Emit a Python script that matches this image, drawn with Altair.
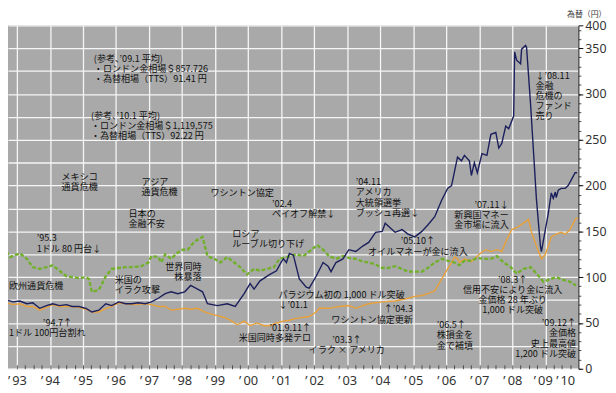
import altair as alt
import pandas as pd

# ---- data (time in fractional years) ----
DARK_T = [1992.49, 1992.70, 1992.88, 1993.09, 1993.30, 1993.48, 1993.69, 1993.90, 1994.08, 1994.29,
          1994.50, 1994.67, 1994.88, 1995.09, 1995.27, 1995.48, 1995.69, 1995.87, 1996.08, 1996.29,
          1996.47, 1996.68, 1996.89, 1997.07, 1997.28, 1997.49, 1997.67, 1997.87, 1998.08, 1998.26,
          1998.47, 1998.62, 1998.77, 1999.07, 1999.37, 1999.61, 1999.88, 2000.06, 2000.18, 2000.36,
          2000.66, 2000.86, 2001.01, 2001.07, 2001.16, 2001.25, 2001.37, 2001.55, 2001.76, 2001.85,
          2002.06, 2002.27, 2002.42, 2002.51, 2002.66, 2002.87, 2003.05, 2003.26, 2003.47, 2003.65,
          2003.86, 2004.06, 2004.15, 2004.30, 2004.45, 2004.66, 2004.84, 2005.05, 2005.26, 2005.44,
          2005.65, 2005.86, 2006.04, 2006.16, 2006.34, 2006.46, 2006.55, 2006.70, 2006.76, 2006.85,
          2006.94, 2007.08, 2007.23, 2007.35, 2007.50, 2007.59, 2007.68, 2007.80, 2007.89, 2008.04,
          2008.07, 2008.13, 2008.25, 2008.28, 2008.40, 2008.43, 2008.55, 2008.73, 2008.85, 2008.88,
          2009.00, 2009.09, 2009.18, 2009.24, 2009.30, 2009.33, 2009.39, 2009.48, 2009.60, 2009.69,
          2009.78, 2009.90, 2009.96]
DARK_V = [80, 75, 73, 74, 71, 72, 66, 69, 71, 69,
          70, 68, 68, 66, 62, 64, 71, 69, 73, 71,
          71, 72, 71, 73, 77, 82, 84, 82, 84, 91,
          87, 84, 71, 69, 71, 68, 82, 93, 87, 96,
          103, 107, 117, 120, 116, 126, 124, 98, 89, 88,
          101, 116, 112, 106, 116, 120, 130, 128, 134, 138,
          149, 150, 159, 154, 149, 152, 147, 144, 150, 157,
          166, 184, 197, 200, 231, 227, 233, 227, 211, 225,
          214, 235, 233, 256, 258, 241, 246, 265, 262, 276,
          346, 337, 333, 349, 353, 351, 290, 185, 134, 128,
          152, 170, 192, 186, 193, 187, 195, 197, 197, 200,
          206, 214, 214]

ORANGE_T = [1992.49, 1992.70, 1992.88, 1993.09, 1993.30, 1993.48, 1993.69, 1993.90, 1994.08, 1994.29,
            1994.50, 1994.67, 1994.88, 1995.09, 1995.27, 1995.48, 1995.69, 1995.87, 1996.08, 1996.29,
            1996.47, 1996.89, 1997.07, 1997.28, 1997.49, 1997.67, 1997.87, 1998.08, 1998.26, 1998.47,
            1998.68, 1998.86, 1999.07, 1999.28, 1999.46, 1999.67, 1999.88, 2000.06, 2000.27, 2000.48,
            2000.66, 2000.86, 2001.07, 2001.25, 2001.46, 2001.85, 2002.06, 2002.15, 2002.45, 2002.75,
            2003.05, 2003.26, 2003.47, 2003.65, 2004.06, 2004.45, 2004.84, 2005.05, 2005.26, 2005.44,
            2005.65, 2005.86, 2006.04, 2006.16, 2006.25, 2006.34, 2006.40, 2006.55, 2006.76, 2006.91,
            2007.06, 2007.20, 2007.35, 2007.53, 2007.68, 2007.83, 2007.98, 2008.13, 2008.34, 2008.49,
            2008.58, 2008.73, 2008.88, 2009.00, 2009.09, 2009.18, 2009.33, 2009.48, 2009.60, 2009.75,
            2009.90, 2009.99]
ORANGE_V = [73, 72, 70, 71, 68, 68, 64, 67, 70, 68,
            68, 68, 67, 65, 62, 62, 66, 68, 72, 71,
            70, 71, 70, 68, 68, 64, 65, 66, 65, 66,
            62, 60, 58, 56, 53, 48, 52, 47, 50, 47,
            47, 50, 52, 53, 55, 57, 62, 66, 66, 68,
            69, 66, 69, 71, 73, 74, 77, 79, 80, 82,
            85, 98, 109, 116, 122, 120, 116, 120, 117, 122,
            127, 130, 128, 130, 128, 141, 152, 154, 159, 163,
            149, 134, 120, 125, 134, 144, 147, 149, 147, 152,
            163, 165]

GREEN_T = [1992.49, 1992.70, 1992.79, 1993.09, 1993.30, 1993.48, 1993.69, 1993.90, 1994.08, 1994.29,
           1994.50, 1994.67, 1994.88, 1995.09, 1995.18, 1995.27, 1995.48, 1995.69, 1995.87, 1996.08,
           1996.29, 1996.47, 1996.77, 1996.98, 1997.07, 1997.28, 1997.37, 1997.49, 1997.67, 1997.87,
           1998.02, 1998.17, 1998.38, 1998.62, 1998.77, 1998.98, 1999.16, 1999.37, 1999.58, 1999.76,
           1999.97, 2000.18, 2000.36, 2000.57, 2000.78, 2000.95, 2001.16, 2001.37, 2001.46, 2001.67,
           2001.85, 2002.09, 2002.27, 2002.45, 2002.66, 2002.87, 2003.05, 2003.26, 2003.47, 2003.65,
           2003.86, 2004.06, 2004.24, 2004.45, 2004.66, 2004.84, 2005.05, 2005.26, 2005.44, 2005.65,
           2005.86, 2006.04, 2006.25, 2006.40, 2006.55, 2006.76, 2006.94, 2007.14, 2007.35, 2007.53,
           2007.74, 2007.95, 2008.13, 2008.34, 2008.55, 2008.73, 2008.94, 2009.15, 2009.33, 2009.54,
           2009.75, 2009.93]
GREEN_V = [128, 127, 122, 126, 120, 111, 109, 111, 113, 107,
           101, 100, 99, 100, 98, 84, 86, 101, 109, 110,
           111, 111, 112, 116, 123, 122, 116, 125, 120, 127,
           130, 130, 139, 144, 123, 120, 116, 122, 116, 111,
           103, 109, 107, 109, 111, 120, 122, 124, 125, 123,
           128, 135, 130, 123, 120, 123, 121, 120, 117, 116,
           114, 110, 110, 112, 109, 106, 106, 106, 110, 116,
           120, 118, 116, 113, 118, 118, 121, 120, 120, 123,
           116, 111, 104, 109, 111, 104, 95, 98, 100, 97,
           95, 91]

YEAR_GRID = list(range(1993, 2010))
YEAR_LABEL_POS = list(range(1993, 2009)) + [2008.92, 2009.6]
QUARTER_TICKS = [1993 + q / 4 for q in range(0, 68)]
Y_LABELS = [0, 50, 100, 150, 200, 250, 300, 350, 375]
Y_GRID = list(range(0, 376, 25))
Y_MINOR = list(range(0, 371, 10))

ANN_T = [1995.33, 1995.24, 1994.35, 1996.77, 1998.86, 1996.38, 1993.60, 1992.76, 1995.96, 1999.52,
         2000.72, 2003.26, 2008.70, 2000.92, 2005.71, 1992.76,
         1998.59, 2007.89, 2004.99, 2001.91, 1994.67, 2009.93,
         2005.14, 2002.99, 2008.01]
ANN_V = [342.7, 280.2, 213.4, 208.0, 196.1, 173.5, 146.6, 94.8, 101.3, 151.9,
         184.3, 208.0, 324.4, 85.1, 51.7, 42.8,
         115.3, 183.2, 69.0, 48.5, 53.9, 53.9,
         143.3, 35.6, 101.3]
ANN_TEXT = [
    "(参考、’09.1 平均)\n・ロンドン金相場＄857.726\n・為替相場（TTS）91.41 円",
    "(参考、’10.1 平均)\n・ロンドン金相場＄1,119,575\n・為替相場（TTS）92.22 円",
    "メキシコ\n通貨危機",
    "アジア\n通貨危機",
    "ワシントン協定",
    "日本の\n金融不安",
    "’95.3\n1ドル 80 円台↓",
    "欧州通貨危機",
    "米国の\nイラク攻撃",
    "ロシア\nルーブル切り下げ",
    "’02.4\nペイオフ解禁↓",
    "’04.11\nアメリカ\n大統領選挙\nブッシュ再選↓",
    "↓’08.11\n金融\n危機の\nファンド\n売り",
    "パラジウム初の 1,000 ドル突破\n↓’01.1",
    "’06.5↑\n株損金を\n金で補填",
    "1ドル 100円台割れ",
    "世界同時\n株暴落",
    "’07.11↓\n新興国マネー\n金市場に流入",
    "↑’04.3\nワシントン協定更新",
    "’01.9.11↑\n米国同時多発テロ",
    "’94.7↑",
    "’09.12↑\n金価格\n史上最高値\n1,200 ドル突破",
    "’05.10↑\nオイルマネーが金に流入",
    "’03.3↑\nイラク × アメリカ",
    "’08.3↑\n信用不安により金に流入\n金価格 28 年ぶり\n1,000 ドル突破",
]
ANN_ALIGN = ["left"] * 16 + ["right"] * 6 + ["center"] * 3

# ---- tables ----
dark_df = pd.DataFrame({"t": DARK_T, "v": DARK_V})
orange_df = pd.DataFrame({"t": ORANGE_T, "v": ORANGE_V})
green_df = pd.DataFrame({"t": GREEN_T, "v": GREEN_V})
ann_df = pd.DataFrame({"t": ANN_T, "v": ANN_V, "text": ANN_TEXT, "align": ANN_ALIGN})

xs = alt.Scale(domain=[1992.73, 2010.0], nice=False, zero=False)
ys = alt.Scale(domain=[0, 375], nice=False, zero=True)

NUM_FONT = "Noto Sans"
JP_FONT = "Noto Sans CJK JP"

# orange layer carries the white grid
orange = alt.Chart(orange_df).mark_line(color="#e9a13a", strokeWidth=1.4, clip=True).encode(
    x=alt.X("t:Q", scale=xs, axis=alt.Axis(orient="bottom", values=YEAR_GRID, grid=True,
                                            gridColor="#f6f6f6", gridWidth=1.3, labels=False,
                                            ticks=False, domain=False, title=None)),
    y=alt.Y("v:Q", scale=ys, axis=alt.Axis(orient="right", values=Y_GRID, grid=True,
                                            gridColor="#f6f6f6", gridWidth=1.3, labels=False,
                                            ticks=False, domain=False, title=None)),
)

# green layer carries the minor ticks
green = alt.Chart(green_df).mark_line(color="#72b02c", strokeWidth=2.4, strokeDash=[4, 2], clip=True).encode(
    x=alt.X("t:Q", scale=xs, axis=alt.Axis(orient="bottom", values=QUARTER_TICKS, offset=-4,
                                            tickSize=4, tickColor="#333333", tickWidth=0.8,
                                            labels=False, domain=False, grid=False, title=None)),
    y=alt.Y("v:Q", scale=ys, axis=alt.Axis(orient="right", values=Y_MINOR, tickSize=2.5,
                                            tickColor="#222222", tickWidth=0.8, labels=False,
                                            domain=False, grid=False, title=None)),
)

# dark layer carries the labelled axes
dark = alt.Chart(dark_df).mark_line(color="#1b1f5c", strokeWidth=1.4, clip=True).encode(
    x=alt.X("t:Q", scale=xs, axis=alt.Axis(
        orient="bottom", values=YEAR_LABEL_POS,
        labelExpr="'’\u2009' + substring(toString(ceil(datum.value)), 2)",
        grid=False, ticks=False, domain=False, title=None, labelFont=NUM_FONT,
        labelFontSize=13, labelColor="#333333", labelPadding=6, labelFlush=False,
        labelOverlap=False, labelBound=False)),
    y=alt.Y("v:Q", scale=ys, axis=alt.Axis(
        orient="right", values=Y_LABELS,
        labelExpr="datum.value == 375 ? '400' : datum.label",
        grid=False, tickSize=4.5, tickColor="#111111", tickWidth=1, domainColor="#111111",
        domainWidth=1, labelFont=NUM_FONT, labelFontSize=12.5, labelColor="#333333",
        labelPadding=2, labelFlush=False, labelOverlap=False, labelBound=False,
        title="為替（円）", titleAngle=0, titleX=8, titleY=-10.5, titleAlign="center",
        titleBaseline="middle", titleFont=JP_FONT, titleFontSize=8,
        titleFontWeight="normal", titleColor="#333333")),
)


def ann_layer(align):
    sub = ann_df[ann_df["align"] == align]
    return alt.Chart(sub).mark_text(
        align=align, baseline="top", font=JP_FONT, fontSize=9.2, lineHeight=10.3,
        lineBreak="\n", color="#111111"
    ).encode(
        x=alt.X("t:Q", scale=xs, axis=None),
        y=alt.Y("v:Q", scale=ys, axis=None),
        text="text:N",
    )


chart = alt.layer(
    orange, green, dark, ann_layer("left"), ann_layer("right"), ann_layer("center")
).resolve_axis(x="independent", y="independent").properties(
    width=578, height=348,
    autosize=alt.AutoSizeParams(type="none"),
    padding={"left": 0, "top": 15, "right": 30, "bottom": 22},
    background="white",
).configure_view(fill="#a9a9a9", strokeWidth=0)

chart.save("out.html", embed_options={"renderer": "svg", "actions": False})
